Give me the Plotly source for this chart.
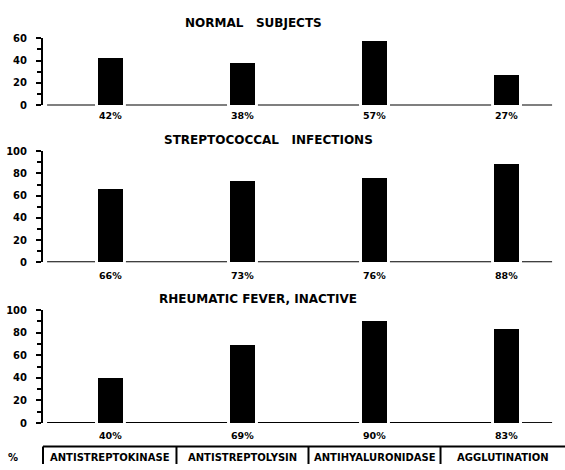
import plotly.graph_objects as go
from plotly.subplots import make_subplots

# ---- data ----
categories = ["ANTISTREPTOKINASE", "ANTISTREPTOLYSIN", "ANTIHYALURONIDASE", "AGGLUTINATION"]
panel_titles = ["NORMAL   SUBJECTS", "STREPTOCOCCAL   INFECTIONS", "RHEUMATIC FEVER, INACTIVE"]
normal_subjects = [42, 38, 57, 27]
streptococcal_infections = [66, 73, 76, 88]
rheumatic_fever_inactive = [40, 69, 90, 83]
y_max = [60, 100, 100]
y_tick_labels = [["0", "20", "40", "60"], ["0", "20", "40", "60", "80", "100"], ["0", "20", "40", "60", "80", "100"]]

series = [normal_subjects, streptococcal_infections, rheumatic_fever_inactive]

W, H = 565, 470
FONT = dict(family="DejaVu Sans", size=10, color="black", weight="bold")
PFONT = dict(FONT, size=9.5)
TFONT = dict(FONT, size=10)

# layout geometry (pixels)
x_dom_px = (43, 560)
x_range = [-0.511, 3.405]
y_dom_px = [(33, 102), (149, 263), (312, 428)]
title_px = [(253, 17), (268, 138), (258, 301)]
label_shift = [-10, -13, -12]
bar_w = 0.19
gap = 0.117
base_start, base_end = -0.48, 3.345

def px_to_paper_y(p):
    return 1 - p / H

def data_to_paper_x(x):
    f = (x - x_range[0]) / (x_range[1] - x_range[0])
    return (x_dom_px[0] + f * (x_dom_px[1] - x_dom_px[0])) / W

fig = make_subplots(rows=3, cols=1)
xs = list(range(len(categories)))

for i, vals in enumerate(series):
    r = i + 1
    fig.add_trace(go.Bar(x=xs, y=vals, width=bar_w, marker=dict(color="black", line=dict(width=0)),
                         showlegend=False, hoverinfo="y"), row=r, col=1)
    # baseline segments with gaps at bars
    seg_x, seg_y = [], []
    edges = [base_start] + [v for c in xs for v in (c - gap, c + gap)] + [base_end]
    for k in range(0, len(edges), 2):
        seg_x += [edges[k], edges[k + 1], None]
        seg_y += [0, 0, None]
    fig.add_trace(go.Scatter(x=seg_x, y=seg_y, mode="lines", line=dict(color="black", width=2),
                             showlegend=False, hoverinfo="skip", cliponaxis=False), row=r, col=1)
    xa = "xaxis" if r == 1 else f"xaxis{r}"
    ya = "yaxis" if r == 1 else f"yaxis{r}"
    top, bot = y_dom_px[i]
    fig.layout[xa].update(domain=[x_dom_px[0] / W, x_dom_px[1] / W], range=x_range,
                          showticklabels=False, showgrid=False, zeroline=False, showline=False, ticks="")
    fig.layout[ya].update(domain=[px_to_paper_y(bot), px_to_paper_y(top)], range=[0, y_max[i]],
                          tickvals=[int(t) for t in y_tick_labels[i]], ticktext=y_tick_labels[i],
                          showgrid=False, zeroline=False, showline=True, linecolor="black", linewidth=2,
                          ticks="outside", ticklen=5, tickwidth=2, tickcolor="black",
                          minor=dict(dtick=10, ticks="outside", ticklen=4, tickwidth=2, tickcolor="black"),
                          tickfont=FONT, ticklabelstandoff=7)
    yref = "y domain" if r == 1 else f"y{r} domain"
    xref = "x" if r == 1 else f"x{r}"
    for c, v in zip(xs, vals):
        fig.add_annotation(x=c, y=0, xref=xref, yref=yref, yshift=label_shift[i], text=f"{v}%",
                           showarrow=False, font=PFONT, xanchor="center", yanchor="middle")
    tx, ty = title_px[i]
    fig.add_annotation(x=tx / W, y=px_to_paper_y(ty), xref="paper", yref="paper",
                       text=panel_titles[i], showarrow=False, font=dict(FONT, size=12),
                       xanchor="center", yanchor="middle")

# bottom table
table_top = px_to_paper_y(452)
fig.add_shape(type="line", xref="paper", yref="paper", x0=data_to_paper_x(x_range[0]), x1=1,
              y0=table_top, y1=table_top, line=dict(color="black", width=2))
bounds = [data_to_paper_x(x_range[0])] + [data_to_paper_x(c + 0.5) for c in xs[:-1]] + [1.0]
for b in bounds[:-1]:
    fig.add_shape(type="line", xref="paper", yref="paper", x0=b, x1=b, y0=0, y1=table_top,
                  line=dict(color="black", width=2))
for k, name in enumerate(categories):
    fig.add_annotation(x=(bounds[k] + bounds[k + 1]) / 2, y=px_to_paper_y(463), xref="paper", yref="paper",
                       text=name, showarrow=False, font=TFONT, xanchor="center", yanchor="middle")
fig.add_annotation(x=13 / W, y=px_to_paper_y(463), xref="paper", yref="paper", text="%",
                   showarrow=False, font=FONT, xanchor="center", yanchor="middle")

fig.update_layout(width=W, height=H, margin=dict(l=0, r=0, t=0, b=0),
                  paper_bgcolor="white", plot_bgcolor="white", bargap=0)
fig.write_html("out.html", config={"displayModeBar": False},
               post_script="document.body.style.margin='0';document.body.style.overflow='hidden';")
